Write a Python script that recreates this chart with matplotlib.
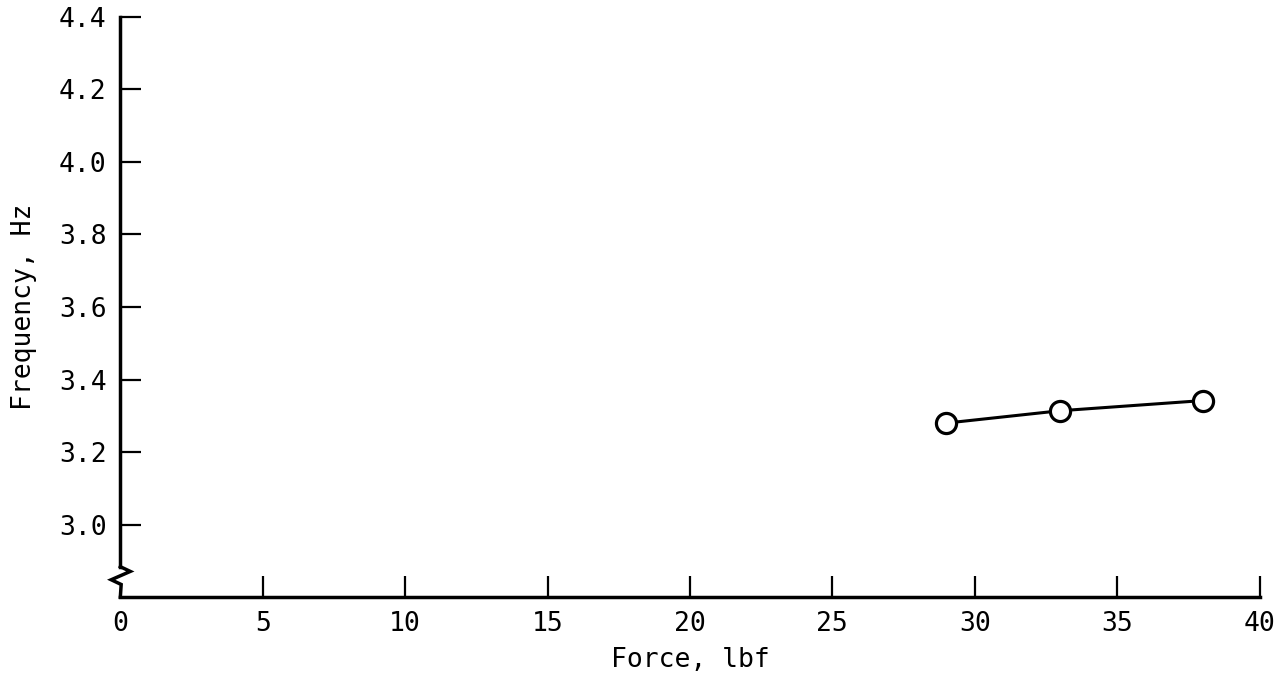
import matplotlib.pyplot as plt

force = [29, 33, 38]
frequency = [3.28, 3.314, 3.342]

x_ticks = [5, 10, 15, 20, 25, 30, 35, 40]
y_ticks = [3.0, 3.2, 3.4, 3.6, 3.8, 4.0, 4.2, 4.4]

plt.rcParams['font.family'] = 'DejaVu Sans Mono'

fig = plt.figure(figsize=(12.8, 6.74), dpi=100)
ax = fig.add_axes([0.094, 0.114, 0.890, 0.861])

ax.plot(force, frequency, color='black', linewidth=2.2, marker='o', markersize=14.5,
        markerfacecolor='white', markeredgecolor='black', markeredgewidth=2.3)

ax.set_xlim(0, 40)
ax.set_ylim(2.80, 4.4)

ax.spines['top'].set_visible(False)
ax.spines['right'].set_visible(False)
ax.spines['bottom'].set_linewidth(2.5)
ax.spines['left'].set_linewidth(2.5)
ax.spines['left'].set_bounds(2.884, 4.4)

# axis break zigzag
ax.plot([0, 0.35, -0.32, 0.03, 0], [2.884, 2.871, 2.848, 2.835, 2.80],
        color='black', linewidth=2.5, clip_on=False, solid_joinstyle='miter')

ax.set_xticks([0] + x_ticks)
ax.set_xticklabels(['0'] + [str(t) for t in x_ticks])
ax.set_yticks(y_ticks)
ax.set_yticklabels([f'{t:.1f}' for t in y_ticks])
ax.tick_params(axis='both', direction='in', length=15, width=1.6, labelsize=19)
ax.tick_params(axis='x', pad=10)
ax.tick_params(axis='y', pad=10)
ax.xaxis.get_major_ticks()[0].tick1line.set_visible(False)

ax.set_xlabel('Force, lbf', fontsize=19, labelpad=7)
ax.set_ylabel('Frequency, Hz', fontsize=19, labelpad=16)

fig.savefig('out.png', dpi=100)
